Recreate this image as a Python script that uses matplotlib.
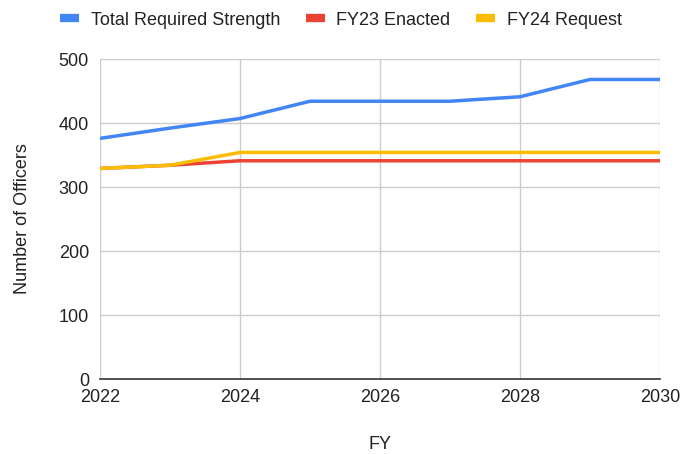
import matplotlib
matplotlib.use('Agg')
import matplotlib.pyplot as plt

plt.rcParams['font.family'] = ['Liberation Sans', 'DejaVu Sans']

# Officer strength by fiscal year
years = [2022, 2023, 2024, 2025, 2026, 2027, 2028, 2029, 2030]
total_required = [376, 392, 407, 434, 434, 434, 441, 468, 468]
fy23_enacted = [329, 334, 341, 341, 341, 341, 341, 341, 341]
fy24_request = [329, 334, 354, 354, 354, 354, 354, 354, 354]

fig = plt.figure(figsize=(6.82, 4.54), dpi=100)
ax = fig.add_axes([100 / 682, 1 - 379 / 454, 560 / 682, 320 / 454])

ax.plot(years, total_required, color='#4285f4', lw=2.5, label='Total Required Strength')
ax.plot(years, fy23_enacted, color='#ea4335', lw=2.5, label='FY23 Enacted')
ax.plot(years, fy24_request, color='#fbbc04', lw=2.5, label='FY24 Request')

ax.set_xlim(2022, 2030)
ax.set_ylim(0, 500)
ax.set_xticks([2022, 2024, 2026, 2028, 2030])
ax.set_yticks([0, 100, 200, 300, 400, 500])
ax.grid(True, color='#cccccc', lw=1)
ax.set_axisbelow(True)
for side in ['top', 'right', 'left']:
    ax.spines[side].set_visible(False)
ax.spines['bottom'].set_color('#333333')
ax.spines['bottom'].set_linewidth(1.2)
ax.tick_params(length=0, labelsize=13, colors='#222222')
ax.tick_params(axis='x', pad=7)
ax.tick_params(axis='y', pad=8)

ax.set_xlabel('FY', fontsize=13, color='#222222', labelpad=22)
ax.set_ylabel('Number of Officers', fontsize=13, color='#222222', labelpad=20)

leg = fig.legend(loc='upper center', bbox_to_anchor=(0.5, 1.01), ncol=3, frameon=False,
                 fontsize=13, handlelength=1.05, columnspacing=1.4,
                 handletextpad=0.65, labelcolor='#222222')
for h in leg.legend_handles:
    h.set_linewidth(6)
    h.set_solid_capstyle('butt')

fig.savefig('out.png', dpi=100)
